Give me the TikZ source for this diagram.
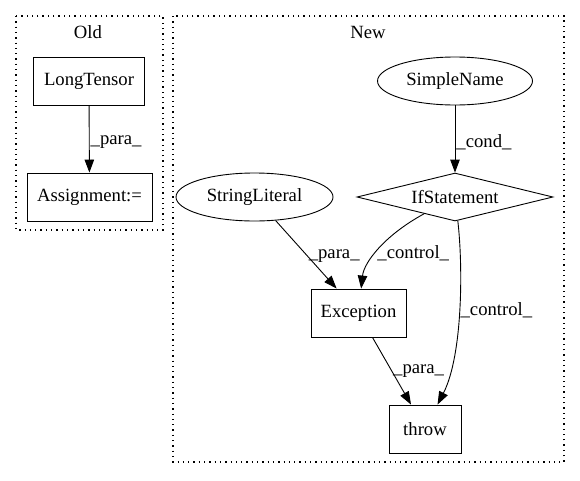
\documentclass[tikz,border=0pt]{standalone}
\usepackage{fontspec}
\setmainfont{Liberation Serif}
\usetikzlibrary{shapes.geometric,arrows.meta}

\begin{document}
\begin{tikzpicture}[x=1pt,y=-1pt,font=\fontsize{18.67}{22}\selectfont]
	\tikzstyle{box} = [draw=black, line width=0.9pt, rectangle, minimum height=48pt, inner sep=0pt]
	\tikzstyle{oval} = [draw=black, line width=0.9pt, ellipse, minimum height=48pt, inner sep=0pt]
	\tikzstyle{test} = [draw=black, line width=0.9pt, diamond, aspect=4, minimum width=196pt, minimum height=48pt, inner sep=0pt]
	\tikzstyle{edge} = [draw=black, line width=0.9pt, -{Triangle[length=13pt,width=9.5pt]}]
	\tikzstyle{lab} = [right, inner sep=1pt]
	\tikzstyle{cluster} = [draw=black, line width=1.2pt, dash pattern=on 1.3pt off 4pt]
	\useasboundingbox (0,0) rectangle (580,480);
	% clusters
	\draw[cluster] (16,16) rectangle (163,230);
	\draw[cluster] (173,16) rectangle (564,462);
		\node (old) at (88,32) {Old};
		\node (new) at (368,32) {New};
	% old
		\node[box, minimum width=111pt] (lt) at (89,81) {LongTensor};
		\node[box, minimum width=125pt] (asg) at (89.5,197) {Assignment:=};
	% new
		\node[oval, minimum width=155pt] (sn) at (455,81) {SimpleName};
		\node[test] (ifs) at (455,197) {IfStatement};
		\node[oval, minimum width=157pt] (sl) at (254.5,197) {StringLiteral};
		\node[box, minimum width=95pt] (exc) at (358.5,313) {Exception};
		\node[box, minimum width=72pt] (thr) at (425,429) {throw};
  	\draw[edge] (lt) -- node[lab, pos=0.55] {\_para\_} (asg);
  	\draw[edge] (sn) -- node[lab, pos=0.55] {\_cond\_} (ifs);
  	\draw[edge] (sl) -- node[lab, pos=0.52] {\_para\_} (exc);
  	\draw[edge] (ifs) .. controls (385,235) and (364,262) .. node[lab, pos=0.55] {\_control\_} (exc);
  	\draw[edge] (ifs) .. controls (463,265) and (463,355) .. node[lab] {\_control\_} (thr);
  	\draw[edge] (exc) -- node[lab] {\_para\_} (thr);
	\end{tikzpicture}
\end{document}
